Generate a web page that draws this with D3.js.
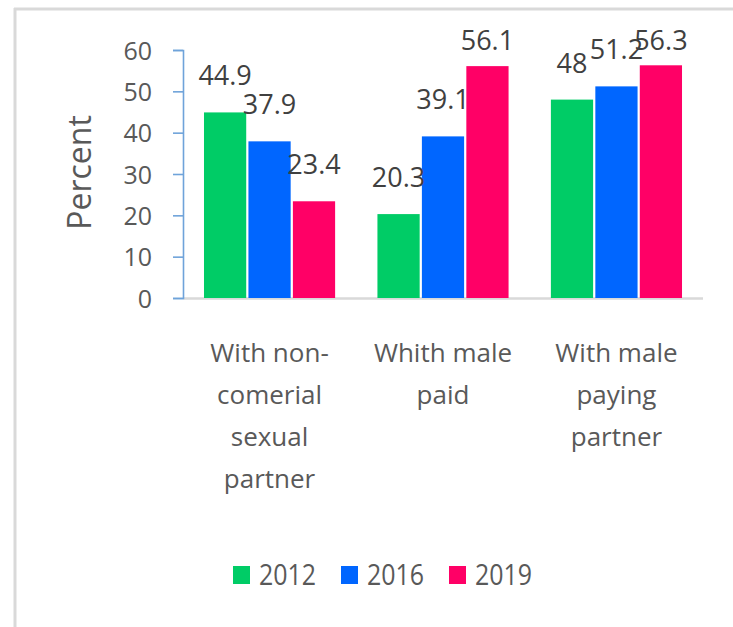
<!DOCTYPE html>
<html>
<head>
<meta charset="utf-8">
<script src="https://cdn.jsdelivr.net/npm/d3@7"></script>
<style>
  html, body { margin: 0; padding: 0; background: #ffffff; }
  svg { display: block; }
  text { font-family: "Open Sans", "Noto Sans", sans-serif; }
</style>
</head>
<body>
<svg id="chart" width="733" height="627"></svg>
<script>
// ---- data ----
const categories = [
  ["With non-", "comerial", "sexual", "partner"],
  ["Whith male", "paid"],
  ["With male", "paying", "partner"]
];
const categoryKeys = ["With non-comerial sexual partner", "Whith male paid", "With male paying partner"];
const seriesNames = ["2012", "2016", "2019"];
const values2012 = [44.9, 20.3, 48];
const values2016 = [37.9, 39.1, 51.2];
const values2019 = [23.4, 56.1, 56.3];
const seriesColors = ["#00CC66", "#0066FF", "#FF0066"];
const yTicks = [0, 10, 20, 30, 40, 50, 60];
const yTitle = "Percent";

const seriesValues = [values2012, values2016, values2019];
const data = categoryKeys.map((c, i) => ({
  key: c,
  lines: categories[i],
  vals: seriesNames.map((s, j) => ({ series: s, value: seriesValues[j][i], color: seriesColors[j] }))
}));

const svg = d3.select("#chart");

// chart frame border (top + left)
svg.append("line").attr("x1", 14).attr("x2", 733).attr("y1", 9).attr("y2", 9)
  .attr("stroke", "#d9d9d9").attr("stroke-width", 3);
svg.append("line").attr("x1", 15).attr("x2", 15).attr("y1", 8).attr("y2", 627)
  .attr("stroke", "#d9d9d9").attr("stroke-width", 3);

const plotLeft = 183, plotRight = 703, plotTop = 50, plotBottom = 298;

const x0 = d3.scaleBand().domain(categoryKeys).range([plotLeft, plotRight])
  .paddingInner(0.244).paddingOuter(0.121);
const x1 = d3.scaleBand().domain(seriesNames).range([0, x0.bandwidth()]).paddingInner(0.05);
const y = d3.scaleLinear().domain([0, 60]).range([plotBottom, plotTop]);

// x axis line
svg.append("line").attr("x1", plotLeft).attr("x2", plotRight)
  .attr("y1", plotBottom + 0.5).attr("y2", plotBottom + 0.5)
  .attr("stroke", "#d9d9d9").attr("stroke-width", 2.5);

// bars
const groups = svg.append("g").selectAll("g").data(data).join("g")
  .attr("transform", d => `translate(${x0(d.key)},0)`);
groups.selectAll("rect").data(d => d.vals).join("rect")
  .attr("x", d => x1(d.series))
  .attr("width", x1.bandwidth())
  .attr("y", d => y(d.value))
  .attr("height", d => y(0) - y(d.value))
  .attr("fill", d => d.color);

// y axis
const yAxis = d3.axisLeft(y).tickValues(yTicks).tickSize(10).tickPadding(21).tickFormat(d3.format("d"));
const ya = svg.append("g").attr("transform", `translate(${plotLeft},0)`).call(yAxis);
ya.select(".domain").attr("stroke", "#6FA3DA").attr("stroke-width", 1.6);
ya.selectAll(".tick line").attr("stroke", "#6FA3DA").attr("stroke-width", 1.6);
ya.selectAll(".tick text").attr("fill", "#595959").attr("font-size", 25)
  .attr("font-family", "'Open Sans', sans-serif").attr("dy", "0.36em");

// y title
svg.append("text").attr("transform", "translate(91,172.5) rotate(-90)")
  .attr("text-anchor", "middle").attr("font-size", 32).attr("fill", "#595959").text(yTitle);

// value labels
groups.selectAll("text.val").data(d => d.vals).join("text")
  .attr("class", "val")
  .attr("x", d => x1(d.series) + x1.bandwidth() / 2)
  .attr("y", d => Math.max(y(d.value) - 27, 50))
  .attr("text-anchor", "middle")
  .attr("font-size", 27)
  .attr("fill", "#404040")
  .text(d => d.value);

// category labels
const catG = svg.append("g");
data.forEach(d => {
  const t = catG.append("text").attr("text-anchor", "middle").attr("font-size", 26).attr("fill", "#595959");
  d.lines.forEach((ln, i) => {
    t.append("tspan").attr("x", x0(d.key) + x0.bandwidth() / 2).attr("y", 362 + i * 42).text(ln);
  });
});

// legend
const legend = svg.append("g");
seriesNames.forEach((s, i) => {
  const lx = 233 + i * 108;
  legend.append("rect").attr("x", lx).attr("y", 566).attr("width", 17).attr("height", 18).attr("fill", seriesColors[i]);
  legend.append("text").attr("x", lx + 26).attr("y", 585).attr("font-size", 30).attr("fill", "#595959")
    .attr("textLength", 57).attr("lengthAdjust", "spacingAndGlyphs").text(s);
});
</script>
</body>
</html>
